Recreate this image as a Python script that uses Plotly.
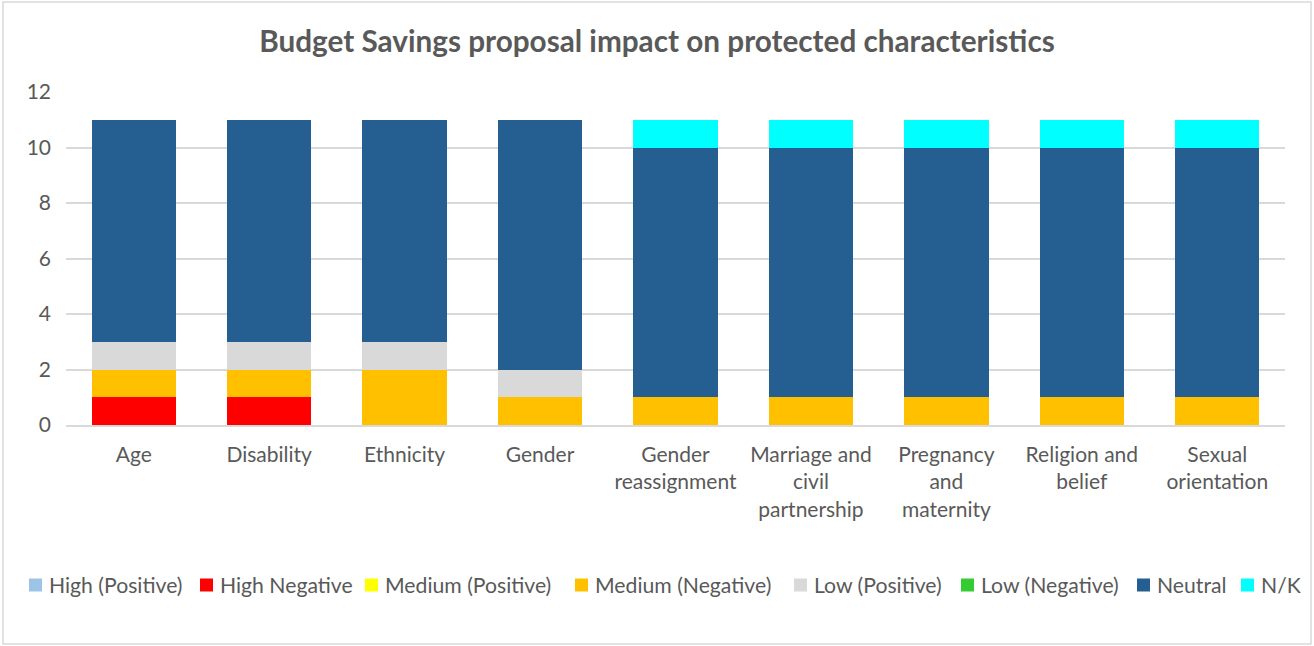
import plotly.graph_objects as go

categories = ["Age", "Disability", "Ethnicity", "Gender", "Gender<br>reassignment",
              "Marriage and<br>civil<br>partnership", "Pregnancy<br>and<br>maternity",
              "Religion and<br>belief", "Sexual<br>orientation"]

series_names = ["High (Positive)", "High Negative", "Medium (Positive)", "Medium (Negative)",
                "Low (Positive)", "Low (Negative)", "Neutral", "N/K"]
high_pos = [0, 0, 0, 0, 0, 0, 0, 0, 0]
high_neg = [1, 1, 0, 0, 0, 0, 0, 0, 0]
med_pos = [0, 0, 0, 0, 0, 0, 0, 0, 0]
med_neg = [1, 1, 2, 1, 1, 1, 1, 1, 1]
low_pos = [1, 1, 1, 1, 0, 0, 0, 0, 0]
low_neg = [0, 0, 0, 0, 0, 0, 0, 0, 0]
neutral = [8, 8, 8, 9, 9, 9, 9, 9, 9]
nk = [0, 0, 0, 0, 1, 1, 1, 1, 1]

colors = ["#9DC3E6", "#FF0000", "#FFFF00", "#FFC000", "#D9D9D9", "#33CC33", "#255E91", "#00FFFF"]
values = [high_pos, high_neg, med_pos, med_neg, low_pos, low_neg, neutral, nk]

# legend layout (pixel positions of key squares' left edges)
legend_px = [29, 200, 365, 575, 794, 961, 1137, 1241]

W, H = 1314, 646
L, R, T, B = 66, 29, 92, 221
pw, ph = W - L - R, H - T - B

def px_x(p):
    return (p - L) / pw

def px_y(p):
    return (H - B - p) / ph

font = "Lato, 'Open Sans', sans-serif"
fig = go.Figure()
for name, vals, col in zip(series_names, values, colors):
    fig.add_trace(go.Bar(x=categories, y=vals, name=name, marker=dict(color=col, line=dict(width=0))))

fig.update_layout(
    barmode="stack",
    bargap=0.377,
    width=W, height=H,
    margin=dict(l=L, r=R, t=T, b=B, autoexpand=False),
    plot_bgcolor="white", paper_bgcolor="white",
    font=dict(family=font, color="#595959", size=21),
    title=dict(text="<b>Budget Savings proposal impact on protected characteristics</b>",
               x=0.5, xanchor="center", y=1 - 42 / H, yanchor="middle",
               font=dict(size=29.7, color="#595959", family=font)),
    showlegend=False,
)
fig.update_yaxes(range=[0, 12], dtick=2, showgrid=True, gridcolor="#D9D9D9", gridwidth=1.5,
                 zeroline=False, ticks="", tickfont=dict(size=21), ticklabelstandoff=14)
fig.update_xaxes(showline=True, linecolor="#D9D9D9", linewidth=1.5, ticks="",
                 tickfont=dict(size=21), tickangle=0, ticklabelstandoff=10)
fig.add_shape(type="rect", xref="paper", yref="paper",
              x0=px_x(3), x1=px_x(1311), y0=px_y(644), y1=px_y(2),
              line=dict(color="#D9D9D9", width=1.5), fillcolor="rgba(0,0,0,0)", layer="below")

ly = 585
for name, col, p in zip(series_names, colors, legend_px):
    fig.add_shape(type="rect", xref="paper", yref="paper",
                  x0=px_x(p), x1=px_x(p + 13), y0=px_y(ly + 6.5), y1=px_y(ly - 6.5),
                  line=dict(width=0), fillcolor=col)
    fig.add_annotation(text=name, xref="paper", yref="paper", x=px_x(p + 18), y=px_y(ly),
                       xanchor="left", yanchor="middle", showarrow=False,
                       font=dict(size=21.2, color="#595959", family=font))

fig.write_html("out.html", config={"displayModeBar": False},
               post_script="document.body.style.margin='0';")
